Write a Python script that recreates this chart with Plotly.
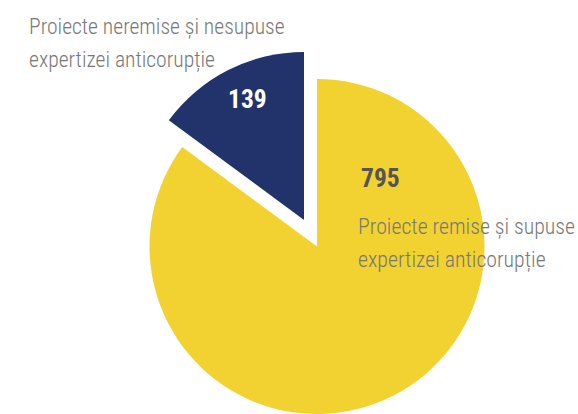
import plotly.graph_objects as go

labels = ["Proiecte remise și supuse expertizei anticorupție",
          "Proiecte neremise și nesupuse expertizei anticorupție"]
values = [795, 139]
colors = ["#F2D230", "#22336B"]
label_lines = [["Proiecte remise și supuse", "expertizei anticorupție"],
               ["Proiecte neremise și nesupuse", "expertizei anticorupție"]]

W, H = 578, 414
FONT = "Roboto Condensed, Roboto, sans-serif"
R = 168
cy_main = (317, 247)
offset = (-13, -27)
cy_pull = (cy_main[0] + offset[0], cy_main[1] + offset[1])

def dom(c):
    x0, y0 = c
    return dict(x=[max(0, (x0 - R) / W), min(1, (x0 + R) / W)],
                y=[max(0, (H - y0 - R) / H), min(1, (H - y0 + R) / H)])

transparent = "rgba(0,0,0,0)"
fig = go.Figure()
fig.add_trace(go.Pie(values=values, labels=labels, sort=False, direction="clockwise",
                     rotation=0, textinfo="none", hoverinfo="label+value",
                     marker=dict(colors=[colors[0], transparent], line=dict(width=0)),
                     domain=dom(cy_main), showlegend=False))
fig.add_trace(go.Pie(values=values, labels=labels, sort=False, direction="clockwise",
                     rotation=0, textinfo="none", hoverinfo="label+value",
                     marker=dict(colors=[transparent, colors[1]], line=dict(width=0)),
                     domain=dom(cy_pull), showlegend=False))

ann = []
ann.append(dict(x=359 / W, y=1 - 178 / H, text=f"<b>{values[0]}</b>", xanchor="left", yanchor="middle",
                font=dict(family=FONT, size=25.5, color="#555555")))
ann.append(dict(x=247.5 / W, y=1 - 99 / H, text=f"<b>{values[1]}</b>", xanchor="center", yanchor="middle",
                font=dict(family=FONT, size=25.5, color="#FFFFFF")))
label_pos = [(356, [226, 259], 21.8), (27, [27, 60], 21.6)]
for lines, (x0, ys, fs) in zip(label_lines, label_pos):
    for line, yy in zip(lines, ys):
        ann.append(dict(x=x0 / W, y=1 - yy / H, text=line, xanchor="left", yanchor="middle",
                        font=dict(family=FONT, size=fs, color="#777777", weight=300)))
for a in ann:
    a.update(xref="paper", yref="paper", showarrow=False)

fig.update_layout(width=W, height=H, margin=dict(l=0, r=0, t=0, b=0),
                  paper_bgcolor="white", plot_bgcolor="white", annotations=ann)
fig.write_html("out.html", post_script="document.body.style.margin='0';",
               config={"displayModeBar": False})
